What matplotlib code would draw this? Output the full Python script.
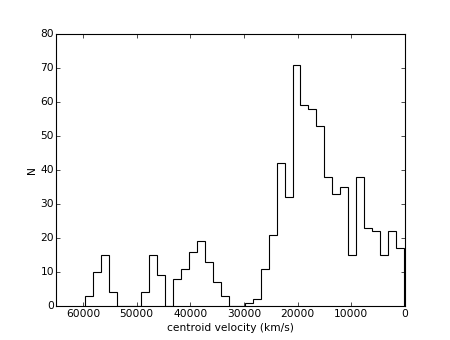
import numpy as np
import matplotlib.pyplot as plt

# histogram of centroid velocities, bins (high -> low velocity)
bin_lo = 190.0
bin_hi = 59550.0
n_bins = 40
counts = [3, 10, 15, 4, 0, 0, 0, 4, 15, 9,
          0, 8, 11, 16, 19, 13, 7, 3, 0, 0,
          1, 2, 11, 21, 42, 32, 71, 59, 58, 53,
          38, 33, 35, 15, 38, 23, 22, 15, 22, 17]

xticks = [60000, 50000, 40000, 30000, 20000, 10000, 0]
yticks = [0, 10, 20, 30, 40, 50, 60, 70, 80]

plt.style.use('classic')
plt.rcParams['font.size'] = 7.7
plt.rcParams['xtick.major.size'] = 3
plt.rcParams['ytick.major.size'] = 3
plt.rcParams['xtick.minor.size'] = 1.5
plt.rcParams['ytick.minor.size'] = 1.5
plt.rcParams['xtick.major.pad'] = 2.5
plt.rcParams['ytick.major.pad'] = 1.5
plt.rcParams['axes.labelpad'] = 2.5
plt.rcParams['axes.linewidth'] = 0.8

edges = np.linspace(bin_hi, bin_lo, n_bins + 1)[::-1]
centers = 0.5 * (edges[:-1] + edges[1:])
weights = np.array(counts[::-1], dtype=float)

fig = plt.figure(figsize=(4.5, 3.4), dpi=100, facecolor='white')
ax = fig.add_subplot(111)
ax.hist(centers, bins=edges, weights=weights, histtype='step', color='black', linewidth=0.8)

ax.set_xlim(65000, 0)
ax.set_ylim(0, 80)
ax.set_xticks(xticks)
ax.set_yticks(yticks)
ax.set_xlabel('centroid velocity (km/s)')
ax.set_ylabel('N')

fig.savefig('out.png', dpi=100, facecolor='white')
